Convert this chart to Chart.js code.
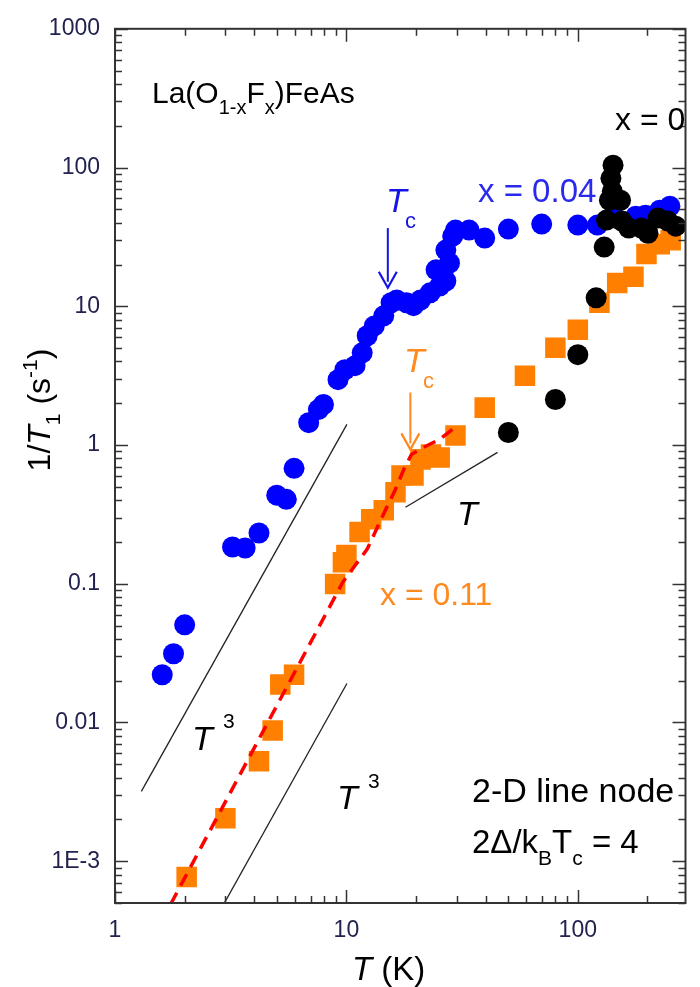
<!DOCTYPE html>
<html><head><meta charset="utf-8">
<script src="https://cdn.jsdelivr.net/npm/chart.js@4/dist/chart.umd.min.js"></script>
<style>html,body{margin:0;padding:0;background:#fff;}</style>
</head><body>
<canvas id="c" width="700" height="987"></canvas>
<script>
// ---- data ----
const blueT = [1.60,1.79,2.0,3.22,3.65,4.19,5.0,5.5,5.94,6.87,7.57,7.96,9.2,9.85,10.9,11.7,12.3,13.2,14.5,15.6,16.5,18.2,19.5,20.9,23.0,25.3,26.9,24.4,27.9,26.9,28.8,29.6,33.9,39.6,50.1,69.8,100,121.5,146,178,196,226,250];
const blueR = [0.0221,0.0313,0.0506,0.184,0.181,0.232,0.435,0.406,0.679,1.45,1.80,1.96,2.96,3.49,3.73,4.62,6.13,7.22,8.53,10.6,11.1,10.6,10.1,11.1,12.5,14.0,15.2,18.3,20.5,25.4,32.0,35.4,35.4,31.0,36.0,39.1,38.5,38.5,43.2,44.6,45.3,49.3,52.6];
const blackT = [50.1,80,100,120,130,133,137,141,139,142,153,155,166,188,201,222,245,265];
const blackR = [1.23,2.13,4.48,11.5,26.7,41.8,58.1,67.4,83.6,104,58.1,41.1,36.6,36.6,33.6,43.2,41.1,37.8];
const orangeT = [2.04,3.0,4.19,4.8,5.18,5.94,8.94,9.66,10.0,11.4,12.8,14.5,16.3,17.3,19.5,20.9,23.2,25.3,29.6,39.6,59.1,80,100,124,148,174,198,226,252];
const orangeR = [7.7e-4,2.04e-3,5.25e-3,8.77e-3,0.0188,0.0221,0.0997,0.143,0.161,0.236,0.292,0.339,0.456,0.604,0.604,0.788,0.855,0.814,1.17,1.86,3.16,5.03,6.77,10.6,14.7,16.3,23.8,28.0,29.9];
const fitT = [1.74,9.66,12.3,14.8,16.3,17.7,19.1,21.5,25.3,30.2];
const fitR = [4.9e-4,0.103,0.178,0.344,0.48,0.667,0.856,0.96,1.10,1.38];
const guideT3aT = [1.30,10.05], guideT3aR = [3.19e-3,1.41];
const guideT3bT = [2.95,10.05], guideT3bR = [4.9e-4,0.0191];
const guideT1T  = [18.0,45.0],  guideT1R  = [0.356,0.885];
const tcBlue = 15.1, tcBlueArrow = [36.6, 13.6];
const tcOrange = 18.9, tcOrangeArrow = [2.39, 0.93];
// ticks
const xMajor = [1,10,100];
const xMajorLabels = ['1','10','100'];
const xMinor = [2,3,4,5,6,7,8,9,20,30,40,50,60,70,80,90,200];
const yMajor = [1e-3,1e-2,0.1,1,10,100,1000];
const yMajorLabels = ['1E-3','0.01','0.1','1','10','100','1000'];
const yMinor = [5e-4,6e-4,7e-4,8e-4,9e-4,2e-3,3e-3,4e-3,5e-3,6e-3,7e-3,8e-3,9e-3,0.02,0.03,0.04,0.05,0.06,0.07,0.08,0.09,0.2,0.3,0.4,0.5,0.6,0.7,0.8,0.9,2,3,4,5,6,7,8,9,20,30,40,50,60,70,80,90,200,300,400,500,600,700,800,900];

const pts = (xs, ys) => xs.map((x, i) => ({x, y: ys[i]}));
const FONT = "'Liberation Sans', Arial, sans-serif";
const TICKCOL = '#22224f';

function near(a, list){ return list.findIndex(v => Math.abs(Math.log10(v) - Math.log10(a)) < 1e-6); }

function rich(ctx, x, y, parts, align){
  let w = 0;
  parts.forEach(p => { ctx.font = p.f; p.w = ctx.measureText(p.t).width; w += p.w + (p.g||0); });
  let cx = align === 'center' ? x - w/2 : x;
  ctx.textAlign = 'left'; ctx.textBaseline = 'alphabetic';
  parts.forEach(p => { ctx.font = p.f; ctx.fillStyle = p.c || '#000'; ctx.fillText(p.t, cx, y + (p.dy||0)); cx += p.w + (p.g||0); });
}

function arrow(ctx, x, y1, y2, col){
  ctx.save();
  ctx.strokeStyle = col; ctx.fillStyle = col; ctx.lineWidth = 2;
  ctx.beginPath(); ctx.moveTo(x, y1); ctx.lineTo(x, y2 - 6); ctx.stroke();
  ctx.beginPath(); ctx.moveTo(x - 9, y2 - 16); ctx.lineTo(x, y2); ctx.lineTo(x + 9, y2 - 16);
  ctx.lineWidth = 2.2; ctx.stroke();
  ctx.restore();
}

const framePlugin = {
  id: 'frame',
  afterDraw(chart){
    const ctx = chart.ctx, a = chart.chartArea, xs = chart.scales.x, ys = chart.scales.y;
    ctx.save();
    ctx.strokeStyle = '#333'; ctx.lineWidth = 1.5;
    const xt = xMajor.map(v => [v, 13]).concat(xMinor.map(v => [v, 7]));
    xt.forEach(([v, L]) => {
      const p = Math.round(xs.getPixelForValue(v)) + 0.5;
      ctx.beginPath(); ctx.moveTo(p, a.bottom); ctx.lineTo(p, a.bottom - L); ctx.stroke();
      ctx.beginPath(); ctx.moveTo(p, a.top); ctx.lineTo(p, a.top + L); ctx.stroke();
    });
    const yt = yMajor.map(v => [v, 13]).concat(yMinor.map(v => [v, 7]));
    yt.forEach(([v, L]) => {
      const p = Math.round(ys.getPixelForValue(v)) + 0.5;
      ctx.beginPath(); ctx.moveTo(a.left, p); ctx.lineTo(a.left + L, p); ctx.stroke();
      ctx.beginPath(); ctx.moveTo(a.right, p); ctx.lineTo(a.right - L, p); ctx.stroke();
    });
    ctx.lineWidth = 2; ctx.strokeStyle = '#333';
    ctx.strokeRect(a.left, a.top, a.right - a.left, a.bottom - a.top);

    arrow(ctx, xs.getPixelForValue(tcBlue), ys.getPixelForValue(tcBlueArrow[0]), ys.getPixelForValue(tcBlueArrow[1]), '#1414e6');
    arrow(ctx, xs.getPixelForValue(tcOrange), ys.getPixelForValue(tcOrangeArrow[0]), ys.getPixelForValue(tcOrangeArrow[1]), '#ff8a1e');

    const F = (s, it) => (it ? 'italic ' : '') + s + 'px ' + FONT;
    rich(ctx, 152, 103, [
      {t:'La(O', f:F(30)}, {t:'1-x', f:F(20), dy:11}, {t:'F', f:F(30)}, {t:'x', f:F(20), dy:11}, {t:')FeAs', f:F(30)}
    ]);
    rich(ctx, 615, 130, [{t:'x = 0', f:F(32)}]);
    rich(ctx, 478, 202, [{t:'x = 0.04', f:F(33), c:'#2a2aee'}]);
    rich(ctx, 380, 605, [{t:'x = 0.11', f:F(32), c:'#ff8a1e'}]);
    rich(ctx, 472, 802, [{t:'2-D line node', f:F(34)}]);
    rich(ctx, 472, 853, [
      {t:'2\u0394/k', f:F(33)}, {t:'B', f:F(21), dy:12}, {t:'T', f:F(33)}, {t:'c', f:F(21), dy:12}, {t:' = 4', f:F(33)}
    ]);
    rich(ctx, 386, 212, [{t:'T', f:F(34, true), c:'#1414e6'}]);
    rich(ctx, 405, 228, [{t:'c', f:F(22), c:'#1414e6'}]);
    rich(ctx, 404, 372, [{t:'T', f:F(34, true), c:'#ff8a1e'}]);
    rich(ctx, 423, 388, [{t:'c', f:F(22), c:'#ff8a1e'}]);
    rich(ctx, 457, 525, [{t:'T', f:F(34, true)}]);
    rich(ctx, 192, 750, [{t:'T', f:F(34, true)}]);
    rich(ctx, 223, 728, [{t:'3', f:F(21)}]);
    rich(ctx, 337, 809, [{t:'T', f:F(34, true)}]);
    rich(ctx, 368, 788, [{t:'3', f:F(21)}]);

    rich(ctx, 352, 980, [{t:'T', f:F(33, true)}, {t:' (K)', f:F(33)}]);
    ctx.save();
    ctx.translate(50, 410); ctx.rotate(-Math.PI/2);
    rich(ctx, 0, 0, [
      {t:'1/', f:F(32)}, {t:'T', f:F(32, true)}, {t:'1', f:F(21), dy:10}, {t:' (s', f:F(32)}, {t:'-1', f:F(21), dy:-13}, {t:')', f:F(32)}
    ], 'center');
    ctx.restore();
    ctx.restore();
  }
};

new Chart(document.getElementById('c'), {
  type: 'scatter',
  data: {
    datasets: [
      {label:'x = 0', data: pts(blackT, blackR), pointStyle:'circle', pointRadius:10.5, backgroundColor:'#000', borderWidth:0, order:0},
      {label:'fit', data: pts(fitT, fitR), showLine:true, pointRadius:0, borderColor:'#ff0000', borderWidth:3.5, borderDash:[13,8], order:1},
      {label:'x = 0.11', data: pts(orangeT, orangeR), pointStyle:'rect', pointRadius:14.5, backgroundColor:'#ff8000', borderWidth:0, order:2},
      {label:'T3a', data: pts(guideT3aT, guideT3aR), showLine:true, pointRadius:0, borderColor:'#222', borderWidth:1.3, order:3},
      {label:'T3b', data: pts(guideT3bT, guideT3bR), showLine:true, pointRadius:0, borderColor:'#222', borderWidth:1.3, order:3},
      {label:'T1', data: pts(guideT1T, guideT1R), showLine:true, pointRadius:0, borderColor:'#222', borderWidth:1.3, order:3},
      {label:'x = 0.04', data: pts(blueT, blueR), pointStyle:'circle', pointRadius:10.5, backgroundColor:'#0000ff', borderWidth:0, order:4}
    ]
  },
  options: {
    responsive: false, devicePixelRatio: 1, animation: false,
    layout: {padding: {left: 0, right: 2, top: 25, bottom: 0}},
    plugins: {legend: {display: false}, tooltip: {enabled: false}},
    scales: {
      x: {
        type: 'logarithmic', min: 1, max: 292,
        grid: {display: false, drawTicks: false}, border: {display: false},
        afterBuildTicks: s => { s.ticks = xMajor.map(v => ({value: v})); },
        afterFit: s => { s.height = 84; },
        ticks: {padding: 14, color: TICKCOL, font: {family: FONT, size: 23}, maxRotation: 0, autoSkip: false,
          callback: v => { const i = near(v, xMajor); return i >= 0 ? xMajorLabels[i] : ''; }}
      },
      y: {
        type: 'logarithmic', min: 5e-4, max: 1000,
        grid: {display: false, drawTicks: false}, border: {display: false},
        afterBuildTicks: s => { s.ticks = yMajor.map(v => ({value: v})); },
        afterFit: s => { s.width = 115; },
        ticks: {padding: 15, color: TICKCOL, font: {family: FONT, size: 23}, autoSkip: false,
          callback: v => { const i = near(v, yMajor); return i >= 0 ? yMajorLabels[i] : ''; }}
      }
    }
  },
  plugins: [framePlugin]
});
</script>
</body></html>
